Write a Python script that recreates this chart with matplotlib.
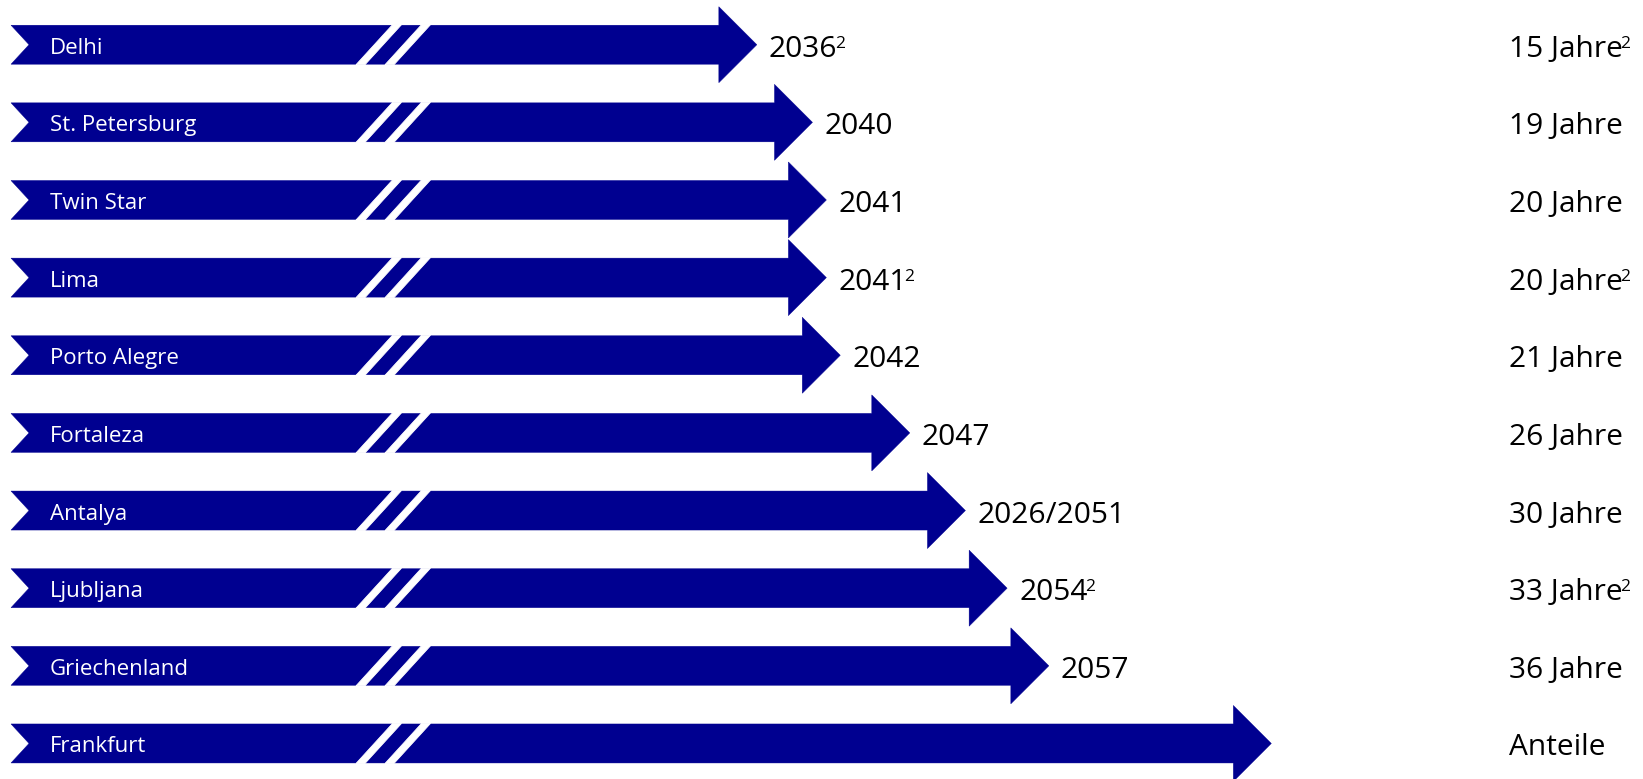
import matplotlib
matplotlib.use("Agg")
import matplotlib.pyplot as plt
from matplotlib.patches import Polygon

# ---------------- data ----------------
cities = ["Delhi", "St. Petersburg", "Twin Star", "Lima", "Porto Alegre",
          "Fortaleza", "Antalya", "Ljubljana", "Griechenland", "Frankfurt"]
end_years = [2036, 2040, 2041, 2041, 2042, 2047, 2051, 2054, 2057, 2073]
year_labels = ["2036", "2040", "2041", "2041", "2042", "2047",
               "2026/2051", "2054", "2057", ""]
year_notes = ["2", "", "", "2", "", "", "", "2", "", ""]
duration_labels = ["15 Jahre", "19 Jahre", "20 Jahre", "20 Jahre", "21 Jahre",
                   "26 Jahre", "30 Jahre", "33 Jahre", "36 Jahre", "Anteile"]
duration_notes = ["2", "", "", "2", "", "", "", "2", "", ""]

# ---------------- layout ----------------
plt.rcParams['font.family'] = ['Open Sans', 'DejaVu Sans']
W, H, DPI = 1643, 779, 100
NAVY = '#000090'
BIG = 21.5
SUP = 12.5

fig = plt.figure(figsize=(W / DPI, H / DPI), dpi=DPI)
ax = fig.add_axes([0, 0, 1, 1])
X0, X1 = 1981.57, 2099.73
ROW_TOP_PX, ROW_STEP_PX = 44.7, 77.64
ax.set_xlim(X0, X1)
ax.set_ylim((H - ROW_TOP_PX) / ROW_STEP_PX, -ROW_TOP_PX / ROW_STEP_PX)
ax.axis('off')

ypp = (X1 - X0) / W          # years per pixel (x)
rpp = 1.0 / ROW_STEP_PX      # rows per pixel (y)


def px2x(p):
    return X0 + p * ypp


left = px2x(11)
notch = 18 * ypp
head_len = 38 * ypp
body_h = 19.5 * rpp
head_h = 38 * rpp
label_x = px2x(49.5)
dur_x = px2x(1509)

stripe_bottoms = [356, 385]
stripe_w = 9
stripe_slant = 36.5

# superscript baseline lift (px): cap height of big text minus digit height of small
em_big = BIG * DPI / 72
em_sup = SUP * DPI / 72
sup_lift = 0.714 * em_big - 0.714 * em_sup

pending_sups = []
for i, (city, end) in enumerate(zip(cities, end_years)):
    c = i
    base = end - head_len
    pts = [(left, c - body_h), (base, c - body_h), (base, c - head_h), (end, c),
           (base, c + head_h), (base, c + body_h), (left, c + body_h),
           (left + notch, c)]
    ax.add_patch(Polygon(pts, closed=True, facecolor=NAVY, edgecolor=NAVY,
                         linewidth=0.3, zorder=2))
    # break marks (white slanted stripes)
    for sb in stripe_bottoms:
        sp = [(px2x(sb), c + body_h + 0.5 * rpp),
              (px2x(sb + stripe_w), c + body_h + 0.5 * rpp),
              (px2x(sb + stripe_w + stripe_slant), c - body_h - 0.5 * rpp),
              (px2x(sb + stripe_slant), c - body_h - 0.5 * rpp)]
        ax.add_patch(Polygon(sp, closed=True, facecolor='white',
                             edgecolor='white', linewidth=0.6, zorder=3))
    # city label
    ax.text(label_x, c + 9 * rpp, city, color='white', fontsize=16,
            ha='left', va='baseline', zorder=4)
    base_y = c + 12 * rpp
    # year label
    if year_labels[i]:
        t = ax.text(end + 12 * ypp, base_y, year_labels[i], color='black',
                    fontsize=BIG, ha='left', va='baseline', zorder=4)
        if year_notes[i]:
            pending_sups.append((t, base_y, year_notes[i]))
    # duration label
    t = ax.text(dur_x, base_y, duration_labels[i], color='black',
                fontsize=BIG, ha='left', va='baseline', zorder=4)
    if duration_notes[i]:
        pending_sups.append((t, base_y, duration_notes[i]))

fig.canvas.draw()
renderer = fig.canvas.get_renderer()
inv = ax.transData.inverted()
for t, by, note in pending_sups:
    bb = t.get_window_extent(renderer)
    xr = inv.transform((bb.x1, 0))[0] - 2.5 * ypp
    ax.text(xr, by - sup_lift * rpp, note, color='black', fontsize=SUP,
            ha='left', va='baseline', zorder=4)

fig.savefig('out.png', dpi=DPI, facecolor='white')
